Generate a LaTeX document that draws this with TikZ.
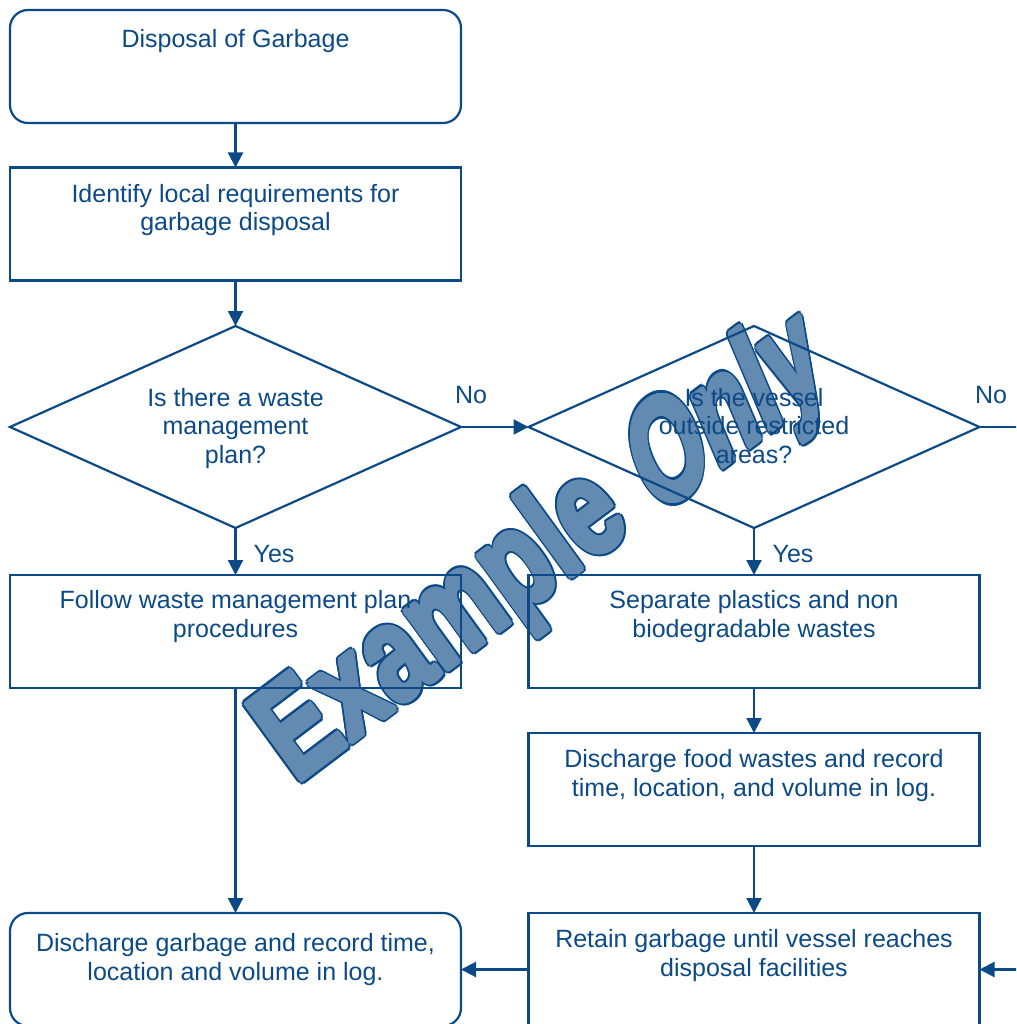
\documentclass[tikz,border=0pt]{standalone}
\usepackage{fontspec}
\setmainfont{Liberation Sans}
\usetikzlibrary{arrows.meta,shapes.geometric}
\definecolor{flow}{HTML}{0C4A87}
\begin{document}
\begin{tikzpicture}[x=1pt,y=-1pt,
  every node/.style={inner sep=0pt, outer sep=0pt},
  stepbox/.style={draw=flow, line width=2.2pt, minimum width=451pt, minimum height=113pt},
  roundbox/.style={stepbox, rounded corners=18pt},
  decision/.style={draw=flow, line width=2.2pt, diamond, minimum width=451pt, minimum height=202pt},
  % multi-line texts sit on the baseline of their last line
  label text/.style={text=flow, align=center, anchor=base, font=\fontsize{25}{28.5}\selectfont},
  flowline/.style={draw=flow, line width=2.2pt},
  flowarrow/.style={flowline, -{Triangle[length=15pt,width=15pt]}},
  wmark/.style={font=\fontsize{100}{100}\selectfont\bfseries, transform shape, anchor=base west},
  wmedge/.style={wmark, text=flow},
  wmfill/.style={wmark, text=flow!64!white}]

\useasboundingbox (0,0) rectangle (1016,1024);
\clip (0,0) rectangle (1016,1024);

% slanted watermark, one word at a time, kept underneath the chart;
% offset copies give the heavy letters and their dark rim
\begin{scope}[shift={(295.7,784.5)}, cm={0.8226,0.6199,-0.7994,1.1002,(0,0)}]
  \foreach \a [count=\i] in {0,20,...,340}
    \node[wmedge] (wmx\i) at (\a:3.6) {Example};
  \foreach \a [count=\i] in {0,30,...,330}
    \node[wmfill] (wmxf\i) at (\a:2) {Example};
  \node[wmfill] (wmx) at (0,0) {Example};
\end{scope}
\begin{scope}[shift={(656.4,517)}, cm={0.7826,0.5898,-0.5626,1.3255,(0,0)}]
  \foreach \a [count=\i] in {0,20,...,340}
    \node[wmedge] (wmy\i) at (\a:3.6) {Only};
  \foreach \a [count=\i] in {0,30,...,330}
    \node[wmfill] (wmyf\i) at (\a:2) {Only};
  \node[wmfill] (wmy) at (0,0) {Only};
\end{scope}

% shapes
\node[roundbox] (b1) at (235.5,66.5) {};
\node[stepbox]  (b2) at (235.5,224) {};
\node[decision] (d1) at (235.5,427) {};
\node[decision] (d2) at (754,427) {};
\node[stepbox]  (b3) at (235.5,631.5) {};
\node[stepbox]  (b4) at (754,631.5) {};
\node[stepbox]  (b6) at (754,789.5) {};
\node[stepbox]  (b7) at (754,969.5) {};
\node[roundbox] (b5) at (235.5,969.5) {};

% connectors
\draw[flowarrow] (b1.south) -- (b2.north);
\draw[flowarrow] (b2.south) -- (d1.north);
\draw[flowarrow] (d1.east) -- (d2.west);
\draw[flowarrow] (d1.south) -- (b3.north);
\draw[flowarrow] (d2.south) -- (b4.north);
\draw[flowarrow] (b3.south) -- (b5.north);
\draw[flowarrow] (b4.south) -- (b6.north);
\draw[flowarrow] (b6.south) -- (b7.north);
\draw[flowarrow] (b7.west) -- (b5.east);
\draw[flowarrow] (d2.east) -- ++(70,0) coordinate (loopback) |- (b7.east);

% texts
\node[label text] (t1) at (235.5,48) {Disposal of Garbage};
\node[label text] (t2) at (235.5,231) {Identify local requirements for\\garbage disposal};
\node[label text] (t3) at (235.5,463) {Is there a waste\\management\\plan?};
\node[label text] (t4) at (754,463) {Is the vessel\\outside restricted\\areas?};
\node[label text] (t5) at (235.5,637) {Follow waste management plan\\procedures};
\node[label text] (t6) at (754,637) {Separate plastics and non\\biodegradable wastes};
\node[label text] (t7) at (754,796) {Discharge food wastes and record\\time, location, and volume in log.};
\node[label text] (t8) at (754,976) {Retain garbage until vessel reaches\\disposal facilities};
\node[label text] (t9) at (235.5,980) {Discharge garbage and record time,\\location and volume in log.};
\node[label text] (no1) at (471,403) {No};
\node[label text] (no2) at (991,403) {No};
\node[label text] (yes1) at (274,562) {Yes};
\node[label text] (yes2) at (793,562) {Yes};
\end{tikzpicture}
\end{document}
